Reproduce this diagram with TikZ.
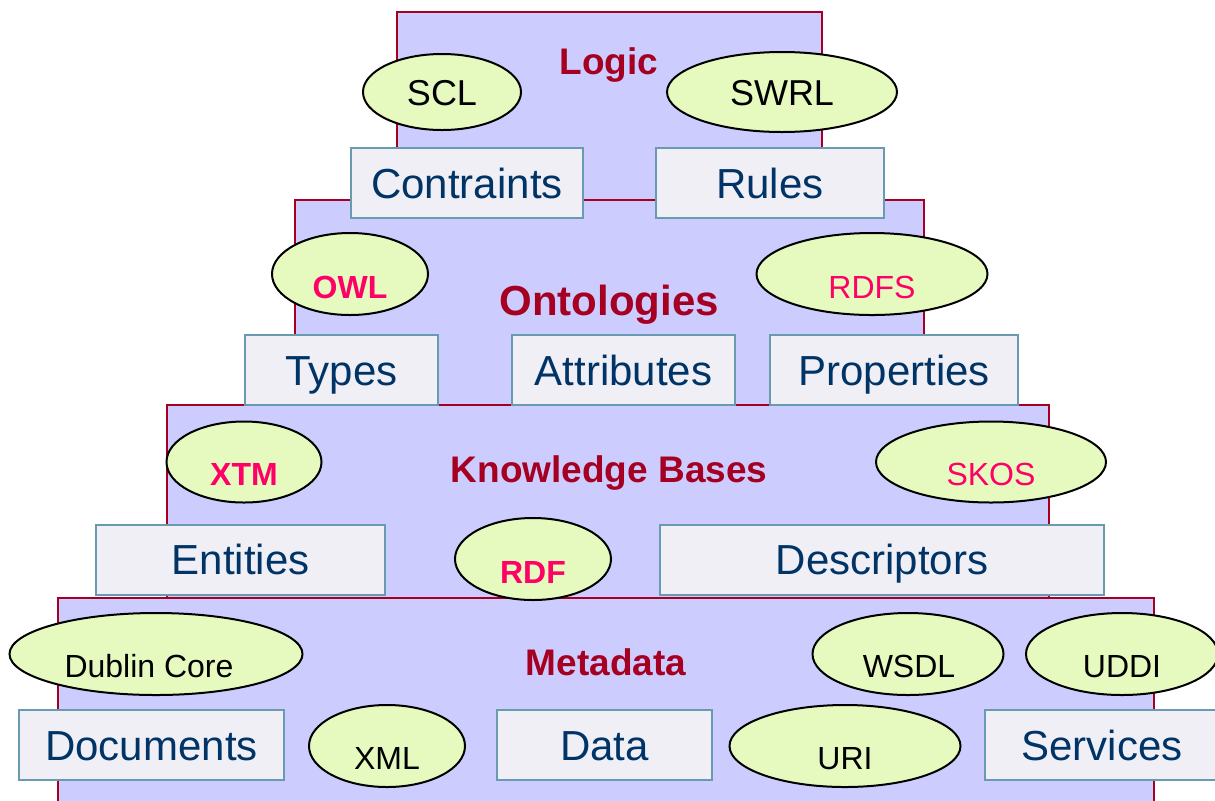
\documentclass[tikz,border=0pt]{standalone}
\usepackage{fontspec}
\setmainfont{Liberation Sans}
\usetikzlibrary{shapes.geometric}

\definecolor{layerfill}{RGB}{204,204,255}
\definecolor{layerline}{RGB}{165,0,33}
\definecolor{boxfill}{RGB}{239,239,245}
\definecolor{boxline}{RGB}{104,155,175}
\definecolor{boxtext}{RGB}{0,51,102}
\definecolor{ovalfill}{RGB}{230,250,192}
\definecolor{langpink}{RGB}{255,0,102}

\begin{document}
\begin{tikzpicture}[x=0.5pt,y=-0.5pt,
    layer/.style={fill=layerfill,draw=layerline,line width=0.75pt},
    title/.style={text=layerline,inner sep=0pt,text height=13.3pt,text depth=0pt,
      font=\fontsize{18.5}{22}\selectfont\bfseries},
    box/.style={draw=boxline,fill=boxfill,line width=1pt,text=boxtext,inner sep=0pt,
      minimum height=35pt,text height=15pt,text depth=0pt,font=\fontsize{21}{25}\selectfont},
    oval/.style={ellipse,draw=black,fill=ovalfill,line width=1pt,inner sep=0pt},
    lang/.style={inner sep=0pt,text height=11.5pt,text depth=0pt,font=\fontsize{16}{19}\selectfont},
    biglang/.style={lang,text height=13pt,font=\fontsize{18}{21}\selectfont},
    pink/.style={lang,text=langpink},
    pinkbold/.style={lang,text=langpink,font=\fontsize{16}{19}\selectfont\bfseries}]
  \clip (0,0) rectangle (1215,800);

  % the four layers, lower ones drawn over upper ones
  \draw[layer] (397,12) rectangle (822,200);
  \draw[layer] (295,200) rectangle (924,405);
  \draw[layer] (167,405) rectangle (1049,598);
  \draw[layer] (58,598) rectangle (1154,820);

  \node[title] (logic) at (609,61) {Logic};
  \node[title,text height=15pt,font=\fontsize{21}{25}\selectfont\bfseries] (onto) at (609,300) {Ontologies};
  \node[title] (kb) at (609,469) {Knowledge Bases};
  \node[title] (meta) at (606,662) {Metadata};

  % logic
  \node[oval,minimum width=79pt,minimum height=38pt] (scl) at (442,92) {};
  \node[biglang] (scl-t) at (442,92) {SCL};
  \node[oval,minimum width=115pt,minimum height=40pt] (swrl) at (782,92) {};
  \node[biglang] (swrl-t) at (782,92) {SWRL};
  \node[box,minimum width=116pt] (constraints) at (467,183) {Contraints};
  \node[box,minimum width=114pt] (rules) at (770,183) {Rules};

  % ontologies
  \node[oval,minimum width=78pt,minimum height=41pt] (owl) at (350,274) {};
  \node[pinkbold] (owl-t) at (350,287) {OWL};
  \node[oval,minimum width=115.5pt,minimum height=41pt] (rdfs) at (872,274) {};
  \node[pink] (rdfs-t) at (872,287) {RDFS};
  \node[box,minimum width=96.5pt] (types) at (341.5,370) {Types};
  \node[box,minimum width=111.5pt] (attributes) at (623.5,370) {Attributes};
  \node[box,minimum width=124pt] (properties) at (894,370) {Properties};

  % knowledge bases
  \node[oval,minimum width=77.5pt,minimum height=40.5pt] (xtm) at (244,462) {};
  \node[pinkbold] (xtm-t) at (244,474) {XTM};
  \node[oval,minimum width=115pt,minimum height=40.5pt] (skos) at (991,462) {};
  \node[pink] (skos-t) at (991,474) {SKOS};
  \node[box,minimum width=144.5pt] (entities) at (240.5,559.5) {Entities};
  \node[box,minimum width=222pt] (descriptors) at (882,559.5) {Descriptors};
  \node[oval,minimum width=78pt,minimum height=41pt] (rdf) at (533,559) {};
  \node[pinkbold] (rdf-t) at (533,572) {RDF};

  % metadata
  \node[oval,minimum width=146.5pt,minimum height=41pt] (dc) at (156,654) {};
  \node[lang] (dc-t) at (149,666) {Dublin Core};
  \node[oval,minimum width=95.5pt,minimum height=41pt] (wsdl) at (908,654) {};
  \node[lang] (wsdl-t) at (909,666) {WSDL};
  \node[oval,minimum width=96pt,minimum height=41pt] (uddi) at (1122,654) {};
  \node[lang] (uddi-t) at (1122,666) {UDDI};
  \node[box,minimum width=132.5pt] (documents) at (151.5,745) {Documents};
  \node[oval,minimum width=78pt,minimum height=41pt] (xml) at (387,746) {};
  \node[lang] (xml-t) at (387,758) {XML};
  \node[box,minimum width=107.5pt] (data) at (604.5,745) {Data};
  \node[oval,minimum width=115.5pt,minimum height=41pt] (uri) at (845,746) {};
  \node[lang] (uri-t) at (845,758) {URI};
  \node[box,minimum width=117pt] (services) at (1102,745) {Services};
\end{tikzpicture}
\end{document}
